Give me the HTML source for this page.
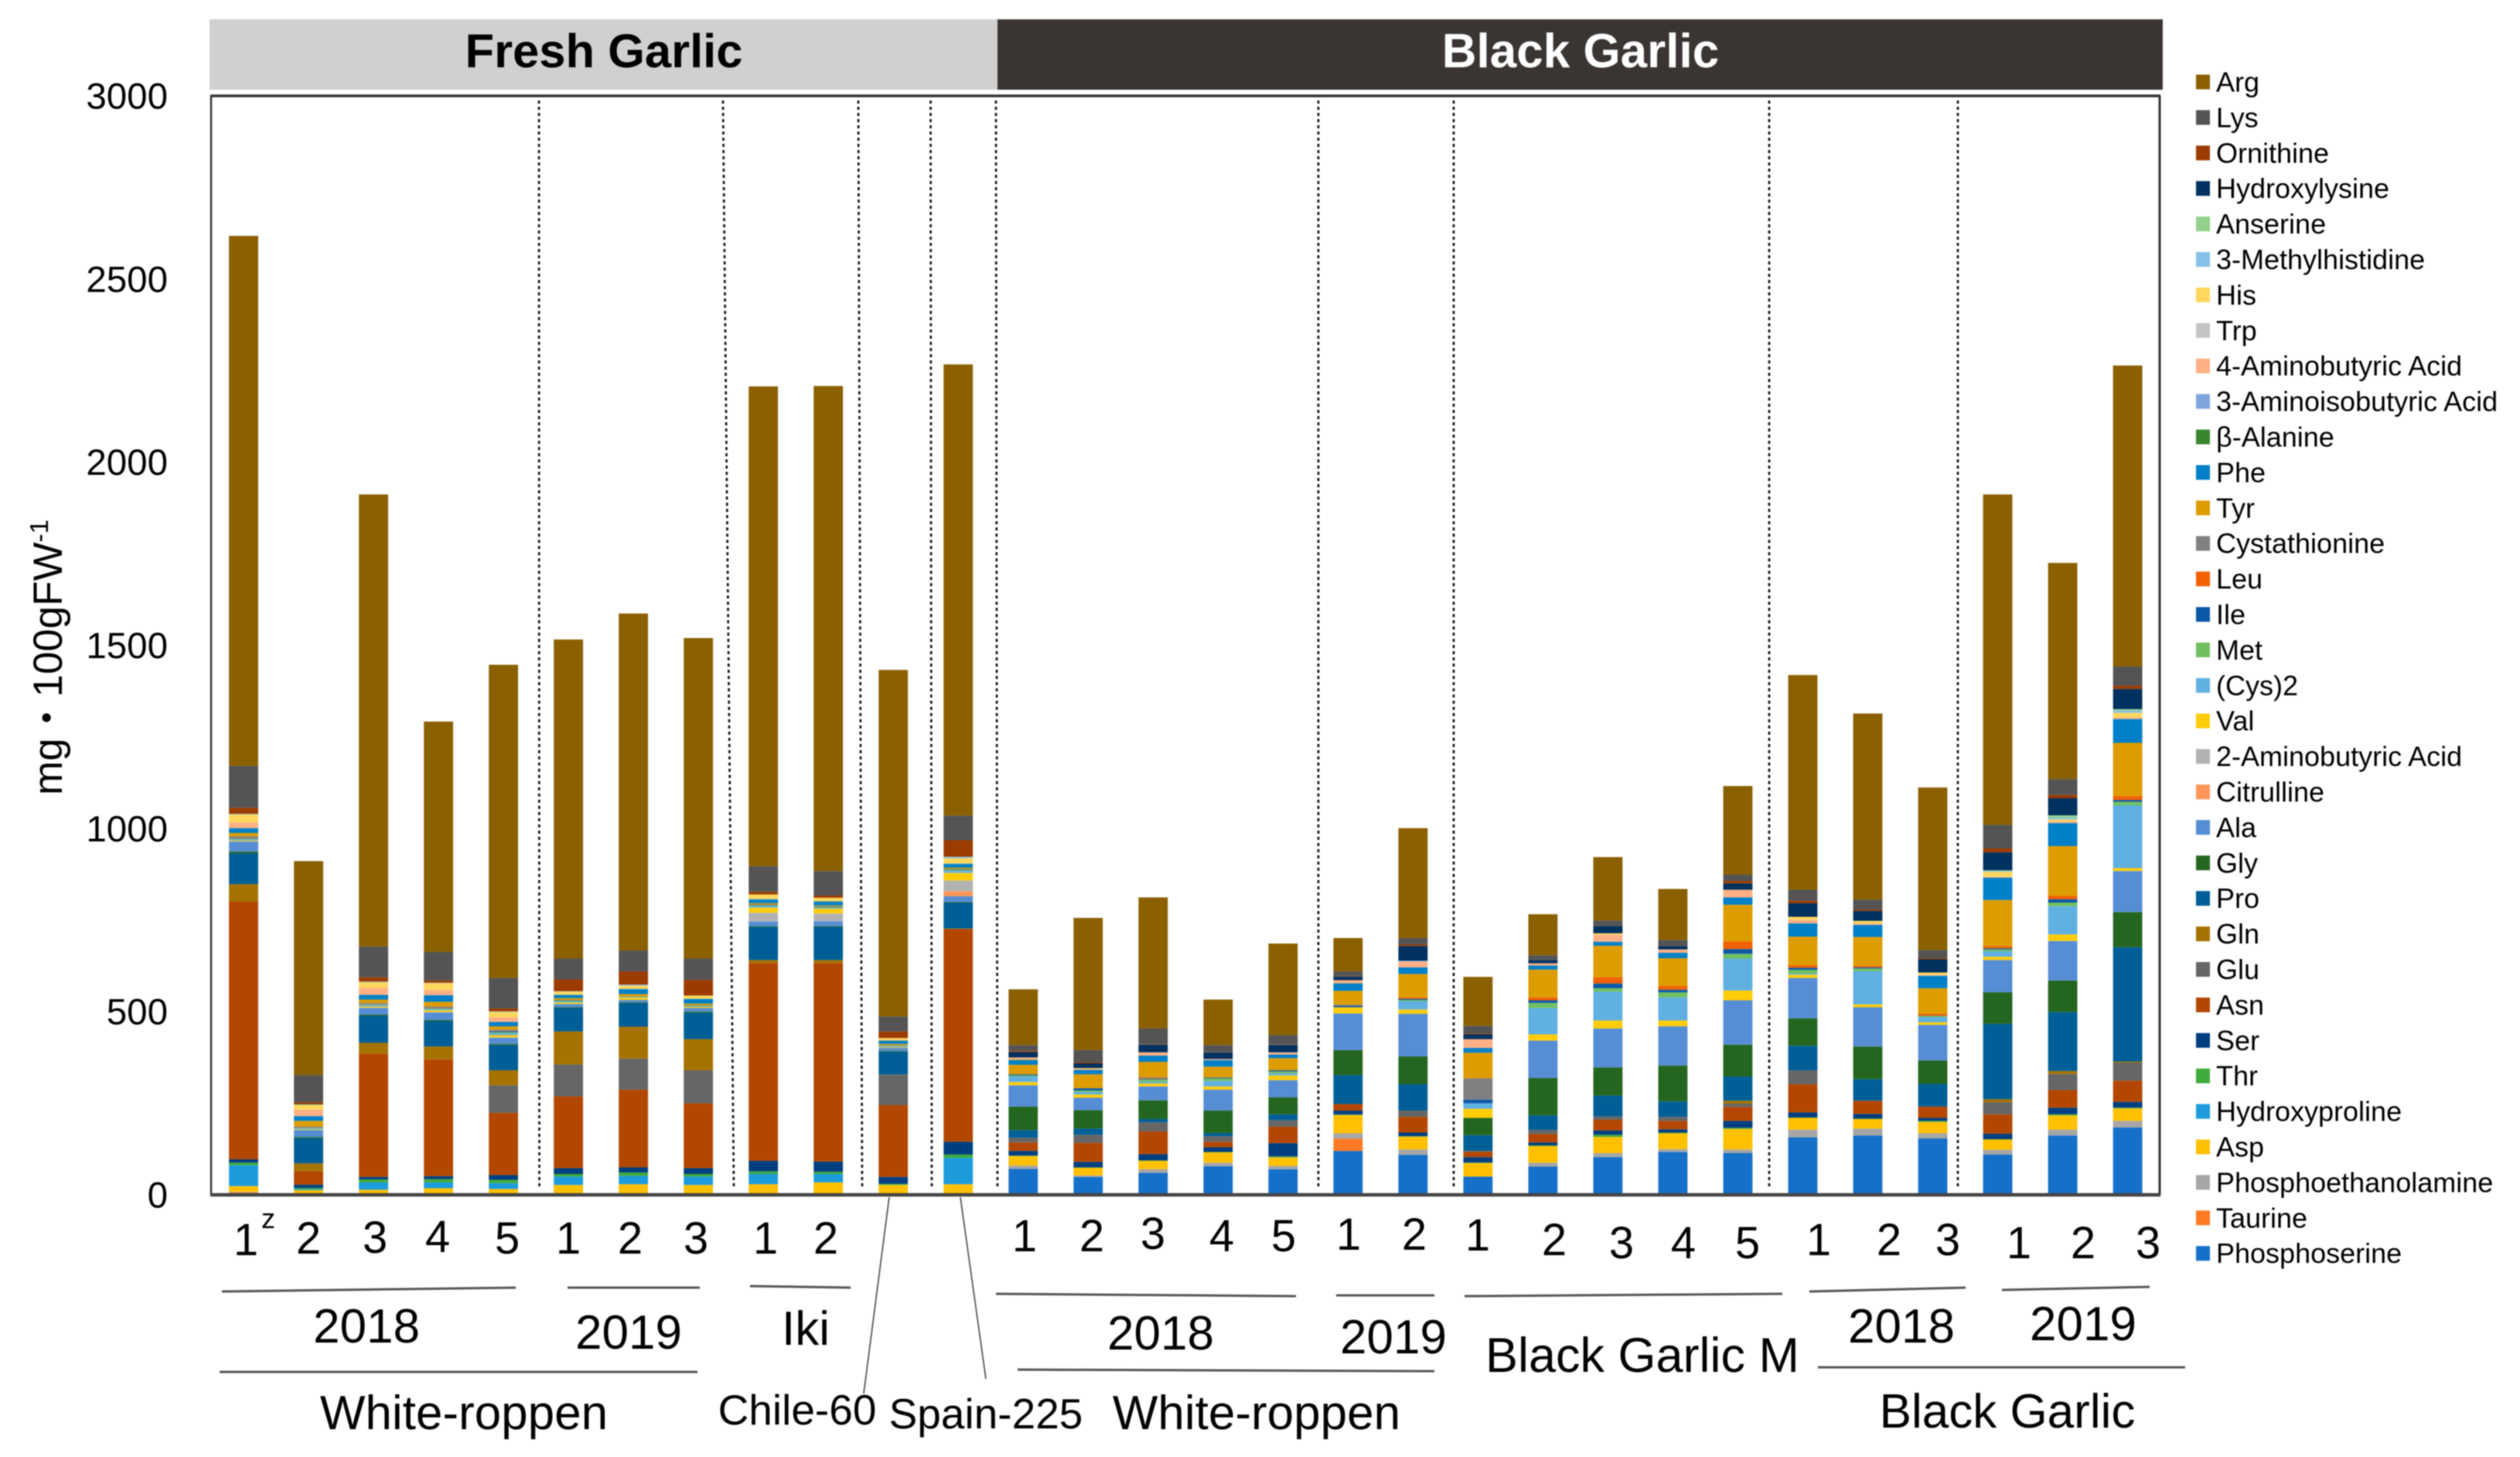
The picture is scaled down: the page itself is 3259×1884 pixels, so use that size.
<!DOCTYPE html>
<html lang="en">
<head>
<meta charset="utf-8">
<title>Free amino acids in fresh and black garlic</title>
<style>
html,body{margin:0;padding:0;background:#fff;}
#chart{display:block;width:3259px;height:1884px;filter:blur(0.7px);font-family:"Liberation Sans","Noto Sans CJK JP",sans-serif;fill:#000;}
.n{font-size:58px;text-anchor:middle;}
.g{font-size:62px;text-anchor:middle;}
.lead{stroke:#555;stroke-width:3;fill:none;}
.thin{stroke:#444;stroke-width:1.6;fill:none;}
.div{stroke:#111;stroke-width:2.7;stroke-dasharray:4 4;fill:none;}
</style>
</head>
<body>
<svg id="chart" xmlns="http://www.w3.org/2000/svg" width="3259" height="1884" viewBox="0 0 3259 1884">
  <rect x="0" y="0" width="3259" height="1884" fill="#fff"/>
  <rect x="271" y="25" width="1019" height="91" fill="#d1d0ce"/>
  <rect x="1290" y="25" width="1507" height="91" fill="#3a3533"/>
  <text x="781" y="87" font-size="61.5" font-weight="bold" text-anchor="middle">Fresh Garlic</text>
  <text x="2044" y="87" font-size="62" font-weight="bold" text-anchor="middle" style="fill:#fff">Black Garlic</text>

  <g id="bars"></g>

  <line class="div" x1="697" y1="130" x2="697.5" y2="1535"/>
  <line class="div" x1="935" y1="130" x2="949" y2="1535"/>
  <line class="div" x1="1110" y1="130" x2="1115" y2="1535"/>
  <line class="div" x1="1203.5" y1="130" x2="1205" y2="1535"/>
  <line class="div" x1="1288" y1="130" x2="1290" y2="1535"/>
  <line class="div" x1="1705" y1="130" x2="1705" y2="1535"/>
  <line class="div" x1="1880" y1="130" x2="1880" y2="1535"/>
  <line class="div" x1="2288" y1="130" x2="2288" y2="1535"/>
  <line class="div" x1="2532" y1="130" x2="2532" y2="1535"/>

  <line x1="273" y1="124" x2="273" y2="1545" stroke="#333" stroke-width="2.5"/>
  <line x1="2793" y1="124" x2="2793" y2="1545" stroke="#333" stroke-width="3"/>
  <line x1="272" y1="124" x2="2794" y2="124" stroke="#333" stroke-width="3.5"/>
  <line x1="272" y1="1545" x2="2794" y2="1545" stroke="#444" stroke-width="4.5"/>

  <g id="yticks"></g>
  <text transform="translate(80,850) rotate(-90)" font-size="53" text-anchor="middle">mg・100gFW<tspan font-size="33" dy="-18">-1</tspan></text>

  <g>
    <text class="n" x="318" y="1623">1</text>
    <text x="338" y="1588" font-size="36">z</text>
    <text class="n" x="399" y="1621">2</text>
    <text class="n" x="485" y="1620">3</text>
    <text class="n" x="566" y="1619">4</text>
    <text class="n" x="656" y="1621">5</text>
    <text class="n" x="735" y="1621">1</text>
    <text class="n" x="815" y="1621">2</text>
    <text class="n" x="900" y="1621">3</text>
    <text class="n" x="990" y="1621">1</text>
    <text class="n" x="1068" y="1621">2</text>
    <text class="n" x="1325" y="1618">1</text>
    <text class="n" x="1412" y="1618">2</text>
    <text class="n" x="1491" y="1615">3</text>
    <text class="n" x="1580" y="1618">4</text>
    <text class="n" x="1660" y="1618">5</text>
    <text class="n" x="1744" y="1616">1</text>
    <text class="n" x="1829" y="1616">2</text>
    <text class="n" x="1911" y="1617">1</text>
    <text class="n" x="2010" y="1623">2</text>
    <text class="n" x="2097" y="1627">3</text>
    <text class="n" x="2177" y="1627">4</text>
    <text class="n" x="2260" y="1627">5</text>
    <text class="n" x="2352" y="1623">1</text>
    <text class="n" x="2443" y="1623">2</text>
    <text class="n" x="2519" y="1623">3</text>
    <text class="n" x="2611" y="1627">1</text>
    <text class="n" x="2694" y="1627">2</text>
    <text class="n" x="2778" y="1627">3</text>
  </g>

  <g>
    <line class="lead" x1="287" y1="1670" x2="667" y2="1665"/>
    <line class="lead" x1="734" y1="1665" x2="905" y2="1665"/>
    <line class="lead" x1="970" y1="1663" x2="1100" y2="1665"/>
    <line class="lead" x1="284" y1="1774" x2="902" y2="1774"/>
    <line class="lead" x1="1288" y1="1673" x2="1676" y2="1676"/>
    <line class="lead" x1="1728" y1="1675" x2="1855" y2="1675"/>
    <line class="lead" x1="1316" y1="1771" x2="1855" y2="1773"/>
    <line class="lead" x1="1894" y1="1676" x2="2305" y2="1673"/>
    <line class="lead" x1="2340" y1="1670" x2="2542" y2="1665"/>
    <line class="lead" x1="2589" y1="1668" x2="2780" y2="1664"/>
    <line class="lead" x1="2351" y1="1768" x2="2826" y2="1768"/>
    <line class="thin" x1="1150" y1="1548" x2="1117" y2="1802"/>
    <line class="thin" x1="1242" y1="1548" x2="1275" y2="1783"/>
  </g>

  <g>
    <text class="g" x="474" y="1736">2018</text>
    <text class="g" x="813" y="1744">2019</text>
    <text class="g" x="1042" y="1739">Iki</text>
    <text class="g" x="1501" y="1745">2018</text>
    <text class="g" x="1802" y="1750">2019</text>
    <text class="g" x="2459" y="1736">2018</text>
    <text class="g" x="2694" y="1733">2019</text>
    <text class="g" x="2124" y="1774" style="font-size:63px">Black Garlic M</text>
    <text class="g" x="600" y="1848">White-roppen</text>
    <text class="g" x="1625" y="1848">White-roppen</text>
    <text class="g" x="2596" y="1846">Black Garlic</text>
    <text x="1031" y="1842" font-size="55" text-anchor="middle">Chile-60</text>
    <text x="1275" y="1847" font-size="55" text-anchor="middle">Spain-225</text>
  </g>

  <g id="legend"></g>
</svg>
<script>
const yTickLabels = [0, 500, 1000, 1500, 2000, 2500, 3000];

const phosphoserine = [5,1,2,2,3,3,3,3,2,3,1,3,71,49,60,78,70,120,109,50,77,103,117,114,157,162,154,110,162,184];
const taurine = [2,1,1,0,0,0,0,0,0,0,0,0,0,0,0,0,0,33,0,0,0,0,0,0,0,0,0,0,0,0];
const phosphoethanolamine = [1,0,0,0,1,1,1,1,1,1,0,1,9,4,10,10,9,15,15,0,11,11,8,10,21,19,14,13,16,18];
const asp = [16,11,11,16,12,23,25,23,26,30,26,25,26,21,23,28,23,50,35,37,45,44,43,56,32,26,31,28,39,34];
const hydroxyproline = [57,3,20,16,16,23,23,23,28,23,0,72,0,0,0,0,0,0,0,0,0,0,0,0,0,0,0,0,0,0];
const thr = [7,3,8,9,9,7,9,7,7,6,3,9,1,1,1,1,3,1,1,1,2,6,2,3,1,1,3,1,3,2];
const ser = [9,9,7,8,13,16,14,16,29,28,19,35,13,15,17,13,36,11,10,15,8,12,9,19,14,13,8,15,18,16];
const asn = [704,37,336,319,170,196,212,177,540,542,196,581,23,52,62,15,45,18,43,15,23,29,23,38,77,36,31,53,48,58];
const glu = [0,0,0,0,75,87,85,90,0,0,82,0,13,22,25,15,18,0,17,2,11,9,11,9,38,0,0,33,44,49];
const gln = [47,21,30,35,41,90,87,85,8,8,1,1,0,0,0,0,0,0,0,0,0,0,0,8,0,0,0,8,8,3];
const pro = [84,69,74,69,69,64,65,72,91,91,63,70,21,17,9,9,16,79,72,43,40,57,42,66,67,59,62,206,161,312];
const gly = [5,3,3,3,3,2,2,3,2,2,2,2,64,50,51,61,46,68,76,47,102,77,98,87,75,89,64,86,86,96];
const ala = [27,19,18,21,17,9,6,10,12,13,8,16,58,34,38,57,47,100,116,0,102,106,107,121,110,107,97,88,108,112];
const citrulline = [0,0,0,0,0,0,0,0,0,0,0,14,0,0,0,0,0,0,0,0,0,0,0,0,0,0,0,0,0,0];
const aminobutyric2 = [1,0,1,1,1,0,0,0,24,21,0,29,0,0,0,0,0,0,0,0,0,0,0,0,0,0,0,0,0,0];
const val = [2,2,3,5,6,4,6,3,14,13,2,21,9,9,8,9,13,17,12,25,17,22,16,27,9,8,7,9,18,8];
const cys2 = [3,2,3,3,5,3,1,2,4,2,3,6,15,7,5,15,6,0,23,15,72,79,63,87,3,91,14,15,77,171];
const met = [2,1,2,2,3,2,1,1,2,2,1,2,3,4,6,7,5,0,3,0,14,9,14,13,10,7,3,5,10,10];
const ile = [1,1,1,1,3,1,1,1,2,2,1,2,3,6,2,2,3,4,3,10,7,13,7,13,6,3,1,3,9,5];
const leu = [1,0,1,1,1,0,0,0,0,0,0,0,0,0,2,0,0,0,4,0,8,17,10,21,7,4,5,6,9,11];
const cystathionine = [5,3,3,3,3,1,0,0,0,0,0,0,0,0,2,0,0,3,0,58,0,0,0,0,0,0,0,0,0,0];
const tyr = [9,16,9,13,9,5,7,5,4,3,4,4,26,38,42,30,33,38,64,70,76,86,76,100,78,79,70,126,136,145];
const phe = [13,13,13,18,12,8,14,13,10,10,8,10,12,12,17,18,10,20,18,13,11,11,15,20,36,33,34,61,63,65];
const betaAlanine = [0,0,0,0,0,1,0,0,1,1,1,1,2,0,0,0,0,1,0,0,0,0,0,0,0,0,0,0,0,0];
const aminoisobutyric3 = [0,0,0,0,0,1,0,0,1,1,1,1,0,0,0,0,0,0,0,0,0,0,0,0,0,0,0,0,0,0];
const aminobutyric4 = [16,17,19,14,13,0,0,0,0,0,0,0,6,3,9,3,6,8,16,24,6,19,9,21,10,4,3,2,5,4];
const trp = [0,0,0,0,0,0,0,0,0,0,0,0,0,0,0,0,0,0,0,0,0,0,0,0,0,0,0,0,0,0];
const his = [21,14,15,19,14,8,9,9,12,9,6,14,0,2,0,0,0,0,0,0,0,4,0,0,8,7,6,14,5,13];
const methylhistidine3 = [1,0,1,1,1,1,3,0,0,0,0,4,0,0,0,0,0,0,2,0,0,0,0,0,0,0,0,2,5,6];
const anserine = [1,1,1,0,1,0,0,0,0,0,0,0,0,0,0,0,0,0,0,0,0,0,0,0,0,0,0,2,6,4];
const hydroxylysine = [0,1,0,0,0,0,0,0,0,0,0,0,15,13,21,18,20,10,40,13,9,20,9,17,37,27,36,49,47,55];
const ornithine = [17,5,12,6,8,32,36,43,7,6,18,45,3,3,1,1,1,1,4,2,0,0,0,7,7,4,3,11,9,9];
const lys = [114,74,84,78,83,57,57,58,70,67,41,67,16,33,43,19,26,13,18,21,13,15,17,17,30,27,22,64,43,52];
const arg = [1447,584,1234,629,855,871,920,875,1310,1324,946,1232,152,361,358,124,250,91,300,134,112,173,139,242,586,508,444,902,590,822];

const seriesNames = ["Phosphoserine","Taurine","Phosphoethanolamine","Asp","Hydroxyproline","Thr","Ser","Asn","Glu","Gln","Pro","Gly","Ala","Citrulline","2-Aminobutyric Acid","Val","(Cys)2","Met","Ile","Leu","Cystathionine","Tyr","Phe","β-Alanine","3-Aminoisobutyric Acid","4-Aminobutyric Acid","Trp","His","3-Methylhistidine","Anserine","Hydroxylysine","Ornithine","Lys","Arg"];
const seriesColors = ["#1570c9","#ff7a22","#a6a6a6","#ffc000","#1c9cdc","#3fab3c","#003f7f","#b34700","#666666","#a67200","#005f96","#246620","#558ed5","#ff9658","#b2b2b2","#ffcc0a","#60b0e2","#70c060","#0c58a8","#f26000","#808080","#dd9c00","#0080c8","#38862e","#7fa6dc","#ffb085","#c4c4c4","#ffd75c","#85c0e6","#93d18b","#00315f","#9c3b00","#545454","#8a6000"];
const seriesValues = [phosphoserine,taurine,phosphoethanolamine,asp,hydroxyproline,thr,ser,asn,glu,gln,pro,gly,ala,citrulline,aminobutyric2,val,cys2,met,ile,leu,cystathionine,tyr,phe,betaAlanine,aminoisobutyric3,aminobutyric4,trp,his,methylhistidine3,anserine,hydroxylysine,ornithine,lys,arg];

const SVGNS = "http://www.w3.org/2000/svg";
const plotLeft = 273, plotRight = 2793.6, plotBottom = 1545, plotTop = 124, yMax = 3000, sampleCount = 30;

function yScale(v) {
  return plotBottom - (v / yMax) * (plotBottom - plotTop);
}
function xBand(i) {
  return plotLeft + (plotRight - plotLeft) * (i + 0.5) / sampleCount;
}
const barWidth = (plotRight - plotLeft) / sampleCount * 0.45;

const barsGroup = document.getElementById("bars");
for (let i = 0; i < sampleCount; i++) {
  let running = 0;
  for (let s = 0; s < seriesValues.length; s++) {
    const v = seriesValues[s][i];
    if (!v) continue;
    const el = document.createElementNS(SVGNS, "rect");
    el.setAttribute("x", xBand(i) - barWidth / 2);
    el.setAttribute("width", barWidth);
    el.setAttribute("y", yScale(running + v));
    el.setAttribute("height", yScale(running) - yScale(running + v));
    el.setAttribute("fill", seriesColors[s]);
    
    
    barsGroup.appendChild(el);
    running += v;
  }
}

const tickGroup = document.getElementById("yticks");
yTickLabels.forEach(function (t) {
  const el = document.createElementNS(SVGNS, "text");
  el.setAttribute("x", 217);
  el.setAttribute("y", yScale(t) + 16.5);
  el.setAttribute("font-size", "47.5");
  el.setAttribute("text-anchor", "end");
  el.textContent = String(t);
  
  
  tickGroup.appendChild(el);
});

const legendGroup = document.getElementById("legend");
for (let s = seriesNames.length - 1, row = 0; s >= 0; s--, row++) {
  const rowY = 106 + row * 45.9;
  const entry = document.createElementNS(SVGNS, "g");
  
  
  const swatch = document.createElementNS(SVGNS, "rect");
  swatch.setAttribute("x", 2840);
  swatch.setAttribute("y", rowY - 9.5);
  swatch.setAttribute("width", 18);
  swatch.setAttribute("height", 19);
  swatch.setAttribute("fill", seriesColors[s]);
  
  
  const label = document.createElementNS(SVGNS, "text");
  label.setAttribute("x", 2866);
  label.setAttribute("y", rowY + 12.5);
  label.setAttribute("font-size", "36");
  label.textContent = seriesNames[s];
  
  
  entry.appendChild(swatch);
  entry.appendChild(label);
  legendGroup.appendChild(entry);
}
</script>
</body>
</html>
